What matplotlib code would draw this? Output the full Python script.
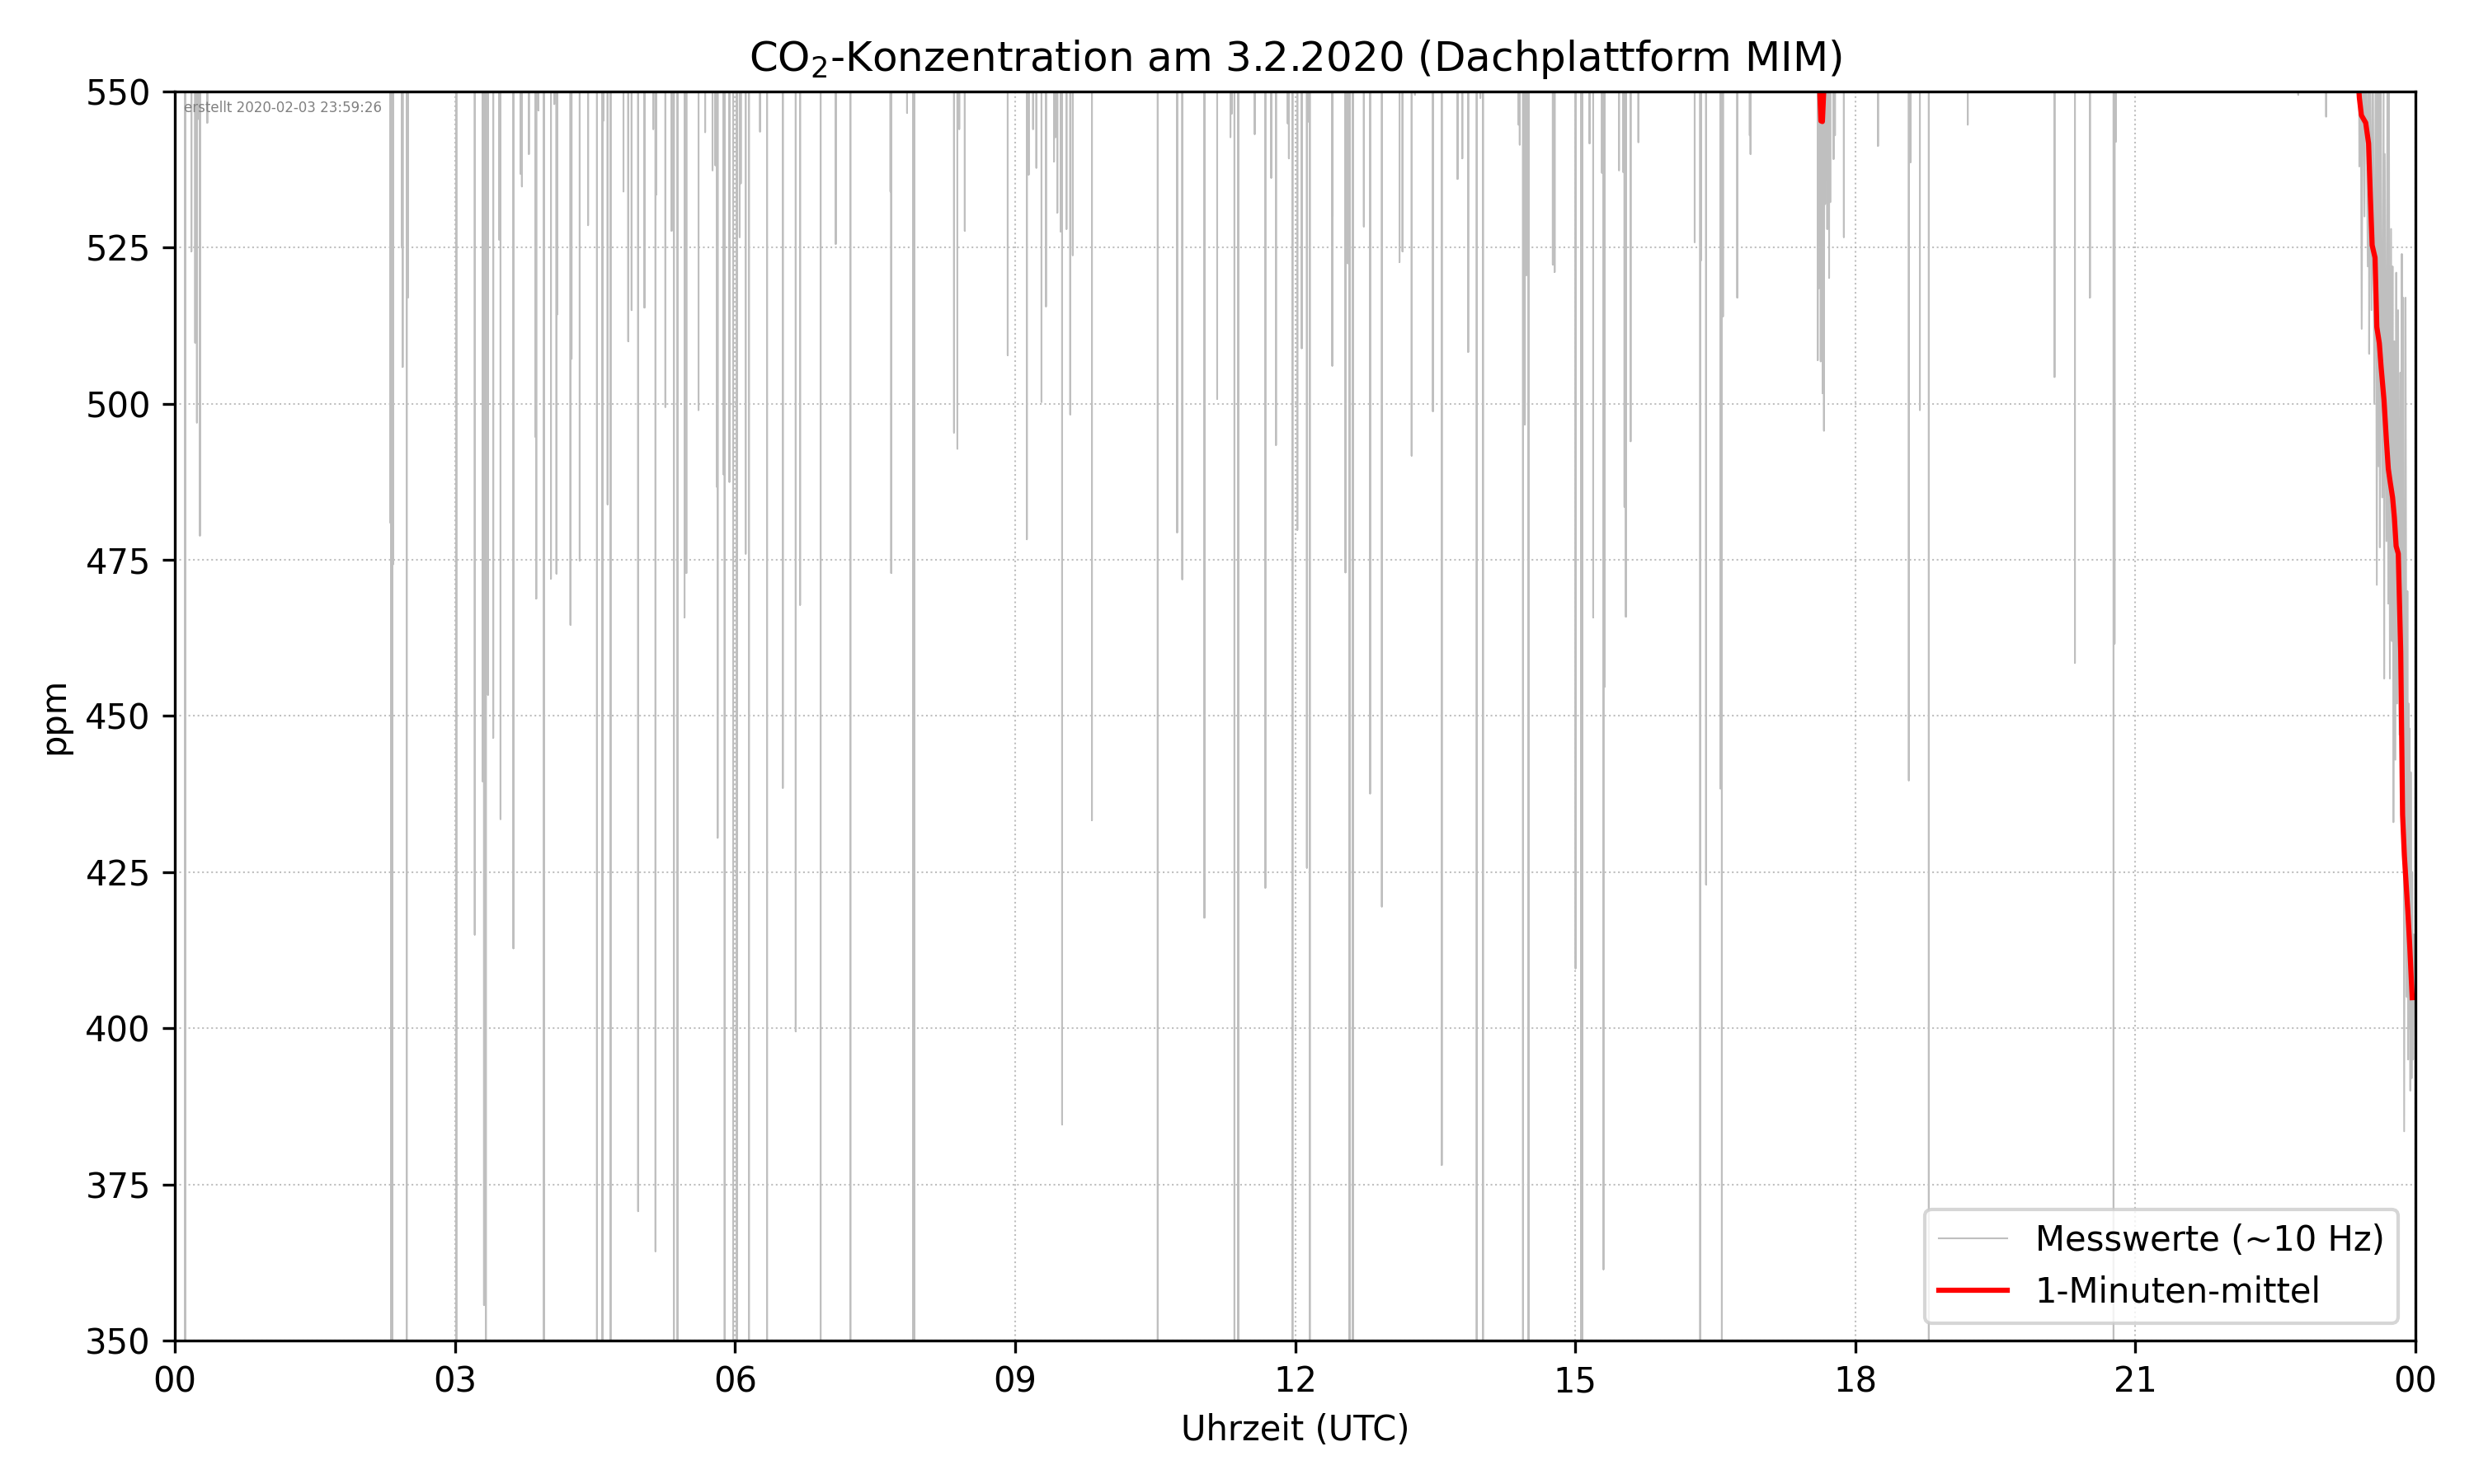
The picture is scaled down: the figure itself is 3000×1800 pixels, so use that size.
import numpy as np
import pandas as pd
import matplotlib
matplotlib.use("Agg")
import matplotlib.pyplot as plt
import matplotlib.dates as mdates

DAY = "2020-02-03"
TITLE = "CO$_2$-Konzentration am 3.2.2020 (Dachplattform MIM)"
CREATED = "erstellt 2020-02-03 23:59:26"

# 10 Hz series: level between spikes lies above the plotted range
BASE_PPM = 580.0

# downward spikes of the 10 Hz series: hour of day and minimum value (ppm)
# (320 = spike reaching below the lower axis limit)
spike_hours = [
    0.110, 0.177, 0.217, 0.236, 0.256, 0.268, 0.347,
    2.306, 2.318, 2.330, 2.337, 2.432, 2.440, 2.483, 2.495,
    3.015, 3.212, 3.299, 3.311, 3.323, 3.331, 3.354, 3.410, 3.473, 3.488,
    3.626, 3.705, 3.717, 3.792, 3.863, 3.871, 3.894, 3.953,
    4.028, 4.064, 4.087, 4.095, 4.237, 4.249, 4.336, 4.426, 4.521, 4.580,
    4.588, 4.635, 4.667, 4.805, 4.856, 4.892, 4.962,
    5.030, 5.124, 5.148, 5.156, 5.254, 5.321, 5.345, 5.384, 5.459, 5.479,
    5.609, 5.680, 5.759, 5.790, 5.806, 5.814, 5.877, 5.889, 5.940, 5.980,
    6.019, 6.050, 6.062, 6.114, 6.149,
    6.268, 6.343, 6.512, 6.650, 6.697, 6.917, 7.079, 7.236, 7.665, 7.673,
    7.843, 7.906, 7.921, 8.346, 8.382, 8.402, 8.461, 8.921,
    9.126, 9.146, 9.193, 9.228, 9.283, 9.331, 9.417, 9.433, 9.453, 9.488,
    9.504, 9.551, 9.591, 9.618, 9.823,
    10.528, 10.736, 10.791, 11.028, 11.165, 11.307, 11.323, 11.350, 11.390,
    11.567, 11.681, 11.744, 11.795, 11.921, 11.933, 11.972,
    12.024, 12.071, 12.126, 12.142, 12.157,
    12.398, 12.402, 12.539, 12.563, 12.583, 12.618, 12.736, 12.803, 12.929,
    13.118, 13.150, 13.248, 13.283, 13.476, 13.571, 13.740, 13.791, 13.854,
    13.945, 13.984, 14.012, 14.394, 14.406, 14.441, 14.461, 14.476, 14.500,
    14.760, 14.780,
    15.004, 15.063, 15.075, 15.154, 15.193, 15.287, 15.303, 15.315, 15.469,
    15.516, 15.528, 15.543, 15.594, 15.677,
    16.280, 16.339, 16.350, 16.402, 16.555, 16.571, 16.583, 16.736, 16.870,
    16.878,
    17.598, 17.604, 17.610, 17.618, 17.630, 17.640, 17.650, 17.658, 17.665,
    17.677, 17.689, 17.700, 17.720, 17.732, 17.768, 17.783, 17.878,
    18.244, 18.574, 18.593, 18.692, 18.788,
    19.205, 20.135, 20.353, 20.514, 20.767, 20.778, 20.793,
    22.745, 23.044,
]
spike_ppm = [
    320, 524.4, 509.8, 497.0, 545.6, 478.9, 545.0,
    481.0, 320, 320, 474.3, 525.0, 505.9, 320, 517.0,
    320, 415.0, 439.5, 355.7, 396.7, 320, 453.4, 446.5, 526.3, 433.5,
    412.8, 536.8, 534.8, 540.0, 494.7, 468.8, 547.0, 320,
    472.0, 548.0, 472.8, 514.3, 464.6, 507.2, 474.9, 528.6, 320, 320,
    545.3, 483.9, 320, 534.0, 510.0, 515.0, 370.7,
    515.4, 544.0, 364.3, 533.5, 499.5, 527.7, 320, 320, 465.8, 472.9,
    499.0, 543.5, 537.4, 538.2, 486.7, 430.5, 488.7, 320, 487.5, 320,
    320, 526.7, 535.3, 476.0, 320,
    543.6, 320, 438.5, 399.5, 467.8, 320, 525.6, 320, 534.0, 472.9,
    546.6, 320, 320, 495.4, 492.8, 544.0, 527.7, 507.8,
    478.3, 536.7, 544.0, 537.8, 500.3, 515.6, 538.8, 542.7, 530.6, 527.6,
    384.6, 528.0, 498.3, 523.8, 433.3,
    320, 479.4, 471.9, 417.7, 500.8, 542.7, 546.5, 320, 320,
    543.2, 422.5, 536.2, 493.4, 544.9, 539.3, 320,
    479.8, 508.9, 425.7, 545.2, 320,
    506.1, 530.0, 473.0, 522.5, 320, 320, 528.4, 437.6, 419.5,
    522.7, 524.4, 491.7, 549.5, 498.8, 378.1, 536.0, 539.3, 508.3,
    320, 549.0, 320, 544.7, 541.5, 320, 496.7, 520.6, 320,
    522.3, 521.1,
    409.6, 320, 320, 541.7, 465.8, 537.0, 361.4, 454.7, 537.4,
    537.1, 483.5, 465.9, 494.0, 541.9,
    525.9, 320, 523.0, 423.0, 438.4, 320, 514.0, 517.0, 543.0,
    540.0,
    507.0, 530.0, 518.5, 540.0, 506.8, 525.0, 501.7, 520.0, 495.7,
    532.0, 535.8, 528.0, 520.2, 532.3, 539.2, 543.0, 526.7,
    541.3, 439.7, 538.7, 499.0, 320,
    544.7, 504.3, 458.5, 517.0, 320, 461.6, 542.0,
    549.5, 546.0,
]

# 10 Hz series during the last ~36 minutes (decline of the concentration)
end_hours = [
    23.390, 23.400, 23.410, 23.425, 23.440, 23.455, 23.470, 23.490, 23.500,
    23.505, 23.515, 23.530, 23.545, 23.560, 23.575, 23.587, 23.595, 23.605,
    23.614, 23.620, 23.630, 23.645, 23.660, 23.666, 23.672, 23.690, 23.700,
    23.710, 23.717, 23.727, 23.740, 23.750, 23.756, 23.765, 23.775, 23.786,
    23.795, 23.805, 23.815, 23.830, 23.840, 23.848, 23.855, 23.862, 23.870,
    23.880, 23.895, 23.909, 23.915, 23.922, 23.928, 23.934, 23.939, 23.946,
    23.951, 23.960, 23.966, 23.975, 23.985,
]
end_ppm = [
    580, 538, 575, 512, 570, 530, 565, 522, 560,
    508, 562, 515, 558, 500, 556, 471, 552, 490,
    552, 477, 551, 485, 552, 456, 540, 478, 551,
    468, 550, 456, 528, 462, 522, 433, 510, 443,
    521, 452, 515, 447, 505, 440, 524, 430, 517,
    383.5, 517, 405, 470, 395, 452, 400, 448, 390,
    441, 392, 425, 395, 415,
]

# 1-minute mean
mean_hours = [
    0.0, 6.0, 12.0, 17.55, 17.615, 17.632, 17.648, 17.668, 17.72, 23.0,
    23.370, 23.400, 23.422, 23.468, 23.499, 23.518, 23.537, 23.568, 23.587,
    23.614, 23.633, 23.664, 23.690, 23.710, 23.729, 23.756, 23.775, 23.794,
    23.817, 23.832, 23.843, 23.863, 23.882, 23.920, 23.939, 23.966,
]
mean_ppm = [
    572, 575, 568, 562, 552, 545.3, 545.2, 552, 562, 570,
    556, 549, 546.2, 545.0, 541.7, 533.2, 525.4, 523.4, 512.3,
    509.7, 505.9, 500.6, 494.1, 489.6, 487.6, 485.0, 481.8, 477.2,
    476.0, 466.9, 460.3, 434.2, 427.7, 418.6, 413.4, 404.9,
]

yticks = [350, 375, 400, 425, 450, 475, 500, 525, 550]

# ---- build series -------------------------------------------------------
sh = np.repeat(np.asarray(spike_hours, float), 3)
sv = np.column_stack([np.full(len(spike_ppm), BASE_PPM),
                      np.asarray(spike_ppm, float),
                      np.full(len(spike_ppm), BASE_PPM)]).ravel()
gray_h = np.concatenate([[0.0], sh, end_hours])
gray_v = np.concatenate([[BASE_PPM], sv, end_ppm])

t0 = pd.Timestamp(DAY)
gray_t = t0 + pd.to_timedelta(gray_h, unit="h")
mean_t = t0 + pd.to_timedelta(np.asarray(mean_hours), unit="h")

# ---- figure ---------------------------------------------------------------
fig = plt.figure(figsize=(10, 6), dpi=300)
ax = fig.add_axes([0.0707, 0.0967, 0.9763 - 0.0707, 0.9383 - 0.0967])

ax.plot(gray_t, gray_v, color="#bfbfbf", lw=0.5, label="Messwerte (~10 Hz)")
ax.plot(mean_t, mean_ppm, color="red", lw=1.5, label="1-Minuten-mittel")

ax.set_xlim(t0, t0 + pd.Timedelta(hours=24))
ax.set_ylim(350, 550)
ax.set_yticks(yticks)
ax.xaxis.set_major_locator(mdates.HourLocator(byhour=range(0, 24, 3)))
ax.xaxis.set_major_formatter(mdates.DateFormatter("%H"))

ax.grid(True, linestyle=":", linewidth=0.5, color="#b0b0b0", alpha=0.8)
ax.set_title(TITLE)
ax.set_xlabel("Uhrzeit (UTC)")
ax.set_ylabel("ppm")
ax.legend(loc="lower right")
ax.text(0.004, 0.993, CREATED, transform=ax.transAxes, fontsize=4,
        color="gray", ha="left", va="top")

fig.savefig("out.png", dpi=300)
